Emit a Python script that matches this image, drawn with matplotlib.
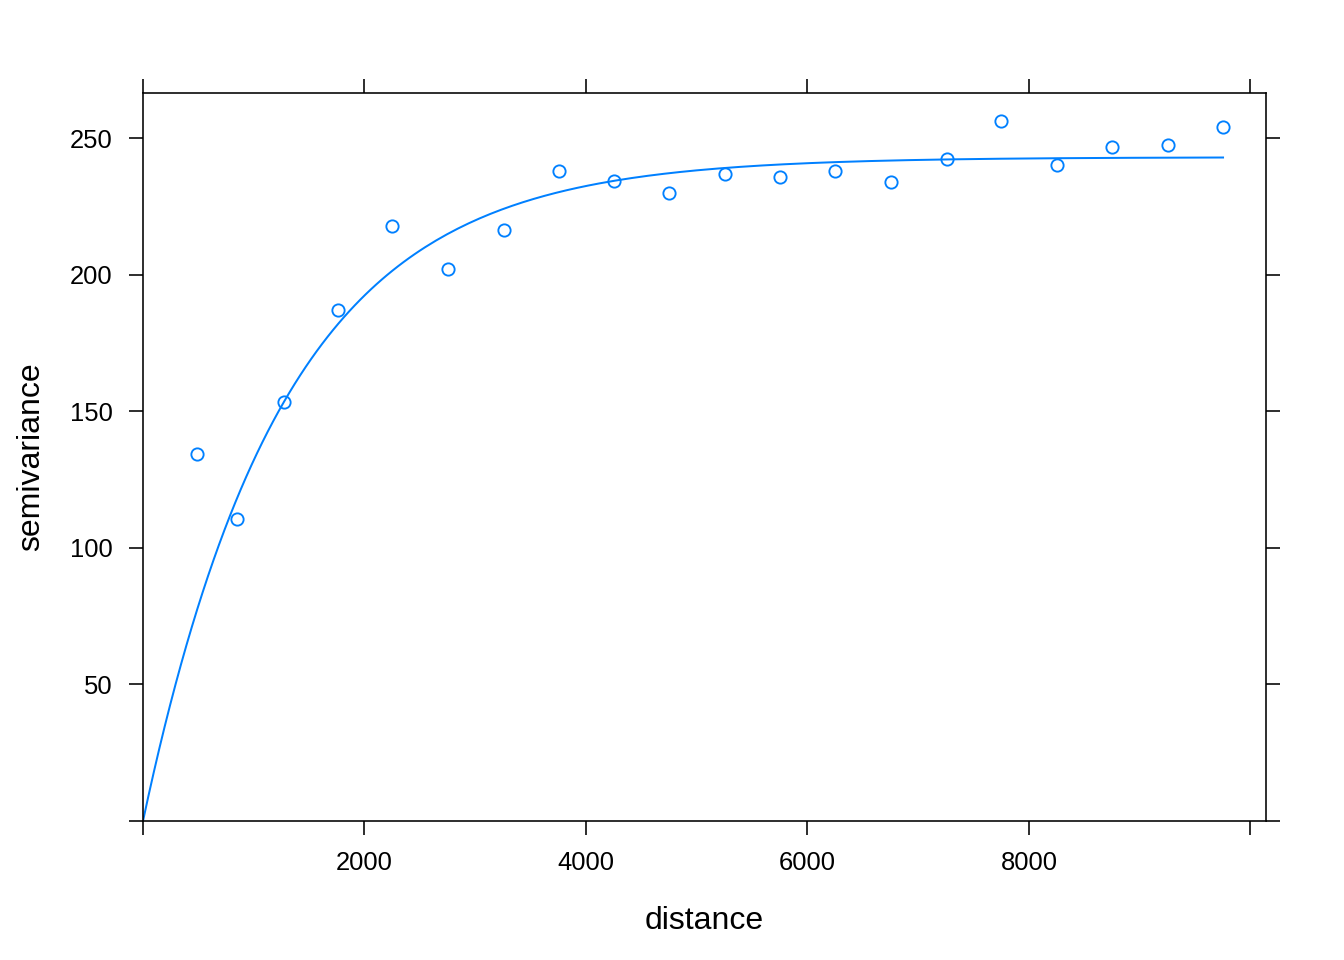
import matplotlib
matplotlib.use("Agg")
import matplotlib.pyplot as plt
import numpy as np

plt.rcParams["font.family"] = ["Liberation Sans", "DejaVu Sans"]

dist = [487, 849, 1273, 1761, 2248, 2754, 3260, 3756, 4253, 4749,
        5255, 5752, 6248, 6754, 7260, 7747, 8253, 8749, 9255, 9752]
gamma = [134.5, 110.7, 153.5, 187.1, 217.8, 202.1, 216.4, 237.9, 234.2, 229.9,
         236.8, 235.8, 237.9, 233.9, 242.3, 256.2, 240.1, 246.7, 247.4, 254.0]

# fitted exponential model (nugget 0)
psill = 243.0
rng = 1275.0
model_maxdist = 9752

col = "#0080ff"

fig = plt.figure(figsize=(7, 5), dpi=192)
ax = fig.add_axes([143 / 1344, 1 - 821 / 960, (1266 - 143) / 1344, (821 - 93) / 960])

h = np.linspace(0, model_maxdist, 200)
ax.plot(h, psill * (1 - np.exp(-h / rng)), color=col, lw=0.75)
ax.plot(dist, gamma, linestyle="none", marker="o", ms=4.6, mfc="none",
        mec=col, mew=0.7)

ax.set_xlim(0, 10140)
ax.set_ylim(0, 266.5)

xt = [0, 2000, 4000, 6000, 8000, 10000]
ax.set_xticks(xt)
ax.set_xticklabels(["", "2000", "4000", "6000", "8000", ""])
yt = [0, 50, 100, 150, 200, 250]
ax.set_yticks(yt)
ax.set_yticklabels(["", "50", "100", "150", "200", "250"])

ax.tick_params(direction="out", length=5.3, width=0.6, pad=6, labelsize=9.6,
               top=True, right=True, labeltop=False, labelright=False)
for s in ax.spines.values():
    s.set_linewidth(0.6)

ax.set_xlabel("distance", fontsize=12, labelpad=11.4)
ax.set_ylabel("semivariance", fontsize=12, labelpad=9)

fig.savefig("out.png", dpi=192)
